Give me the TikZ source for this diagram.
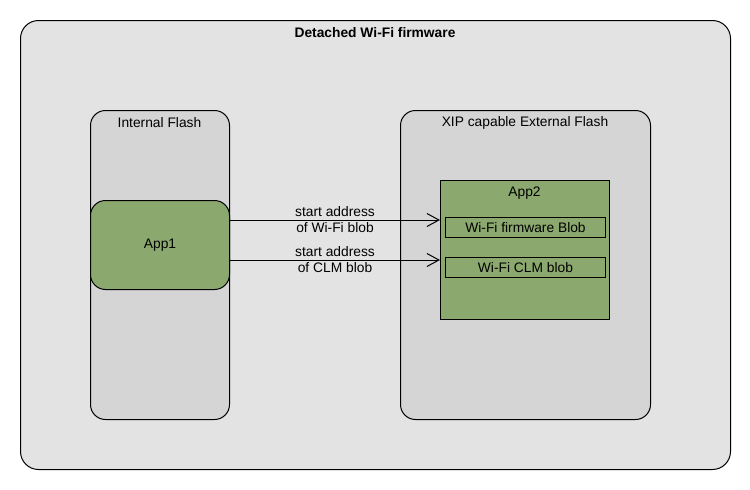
\documentclass[tikz,border=0pt]{standalone}
\usepackage{fontspec}
\setmainfont{Liberation Sans}
\usepackage{xcolor}
\usetikzlibrary{arrows.meta}
\definecolor{bggray}{HTML}{E3E3E3}
\definecolor{flashgray}{HTML}{D5D5D5}
\definecolor{appgreen}{HTML}{8BA96E}

\begin{document}
\begin{tikzpicture}[x=1pt, y=-1pt, line width=1pt,
        font=\fontsize{13.8}{16}\selectfont,
        box/.style={draw, anchor=north west, inner sep=0pt},
        flash/.style={box, fill=flashgray, rounded corners=15pt},
        app/.style={box, fill=appgreen},
        ptr/.style={-{Straight Barb[length=12pt, width=13pt]}}]
            \useasboundingbox (0,0) rectangle (750,490);

            \node[box, fill=bggray, rounded corners=18pt, minimum width=710, minimum height=449] (fw) at (20,20) {};
            \node[font=\fontsize{13.8}{16}\selectfont\bfseries] (fwlbl) at (375,33) {Detached Wi-Fi firmware};

            \node[flash, minimum width=139, minimum height=309] (intflash) at (90,110) {};
            \node (intflashlbl) at (159.5,123) {Internal Flash};
            \node[flash, minimum width=250, minimum height=309] (extflash) at (400,110) {};
            \node (extflashlbl) at (525,123) {XIP capable External Flash};

            \node[app, rounded corners=15pt, minimum width=139, minimum height=89] (app1) at (90,200) {App1};
            \node[app, minimum width=169, minimum height=139] (app2) at (440,180) {};
            \node (app2lbl) at (524.5,193) {App2};
            \node[app, minimum width=160, minimum height=20] (wifiblob) at (445,217) {Wi-Fi firmware Blob};
            \node[app, minimum width=160, minimum height=20] (clmblob) at (445,257) {Wi-Fi CLM blob};

            \coordinate (wifiy) at (0,220);
            \coordinate (clmy) at (0,260);
            \draw[ptr] (app1.east |- wifiy) -- node[align=center] (wifiaddr) {start address\\of Wi-Fi blob} (app2.west |- wifiy);
            \draw[ptr] (app1.east |- clmy) -- node[align=center] (clmaddr) {start address\\of CLM blob} (app2.west |- clmy);
        \end{tikzpicture}
\end{document}
